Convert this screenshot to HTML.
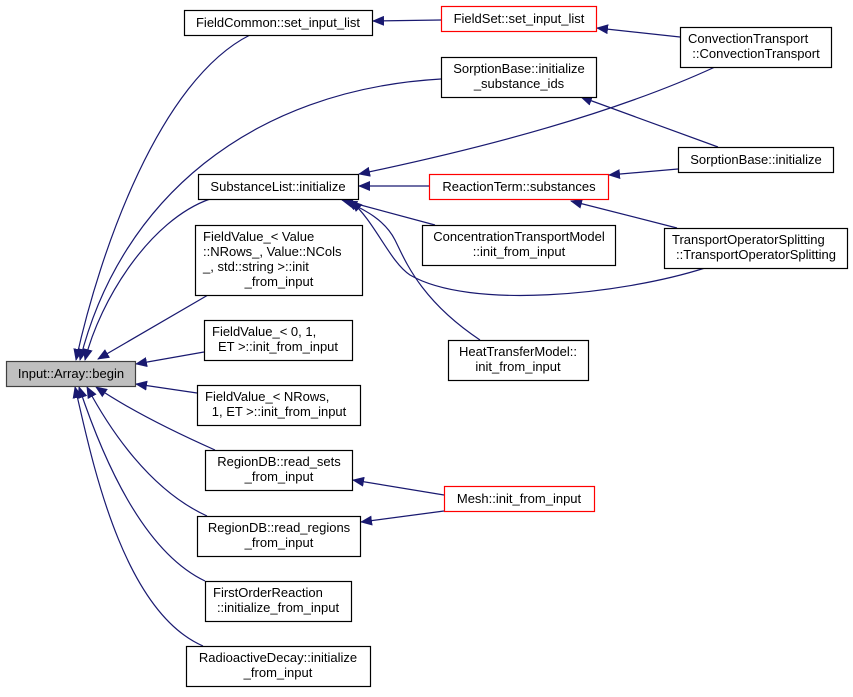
<!DOCTYPE html>
<html><head><meta charset="utf-8"><style>
body{margin:0;background:#fff}
svg text{font-family:"Liberation Sans",sans-serif;font-size:13px;fill:#000}
</style></head><body>
<svg width="853" height="692" viewBox="0 0 853 692" xmlns="http://www.w3.org/2000/svg">
<defs><marker id="a" markerWidth="12" markerHeight="10" refX="11" refY="5" orient="auto" markerUnits="userSpaceOnUse"><path d="M0,0 L12,5 L0,10 z" fill="#191970"/></marker></defs>
<g fill="none" stroke="#191970" stroke-width="1.2" marker-end="url(#a)">
<path d="M250,35 C160,80 100,250 76,360"/>
<path d="M441,79 C250,90 120,200 80,360"/>
<path d="M210,199 C150,220 100,300 85,360"/>
<path d="M208,295 L98,359"/>
<path d="M204,352 L136,364"/>
<path d="M197,393 L136,384"/>
<path d="M215,450 C170,430 130,410 96,387"/>
<path d="M207,516 C150,490 110,430 87,387"/>
<path d="M205,581 C140,550 100,450 79,387"/>
<path d="M203,646 C120,610 90,450 75,387"/>
<path d="M441,20 L373,21"/>
<path d="M680,37 L597,28"/>
<path d="M715,67 C600,120 450,155 359,174"/>
<path d="M718,147 L581,97"/>
<path d="M678,169 L609,175"/>
<path d="M429,186 L359,186"/>
<path d="M677,228 L571,201"/>
<path d="M435,225 L342,200"/>
<path d="M705,268 C620,295 470,310 410,275 C390,262 375,222 351,201"/>
<path d="M480,340 C420,300 405,260 395,240 C385,220 365,210 346,201"/>
<path d="M444,495 L353,480"/>
<path d="M444,511 L361,522"/>
</g>
<g stroke-width="1.2" fill="#fff" stroke="#000">
<rect x="6.5" y="361.5" width="129" height="25" fill="#bfbfbf" stroke="#404040"/>
<rect x="184.5" y="10.5" width="188" height="25"/>
<rect x="198.5" y="174.5" width="160" height="25"/>
<rect x="195.5" y="225.5" width="167" height="70"/>
<rect x="204.5" y="320.5" width="148" height="40"/>
<rect x="197.5" y="385.5" width="163" height="40"/>
<rect x="205.5" y="450.5" width="147" height="40"/>
<rect x="197.5" y="516.5" width="163" height="40"/>
<rect x="205.5" y="581.5" width="146" height="40"/>
<rect x="186.5" y="646.5" width="184" height="40"/>
<rect x="441.5" y="6.5" width="155" height="25" stroke="#ff0000"/>
<rect x="441.5" y="57.5" width="155" height="40"/>
<rect x="680.5" y="27.5" width="151" height="40"/>
<rect x="678.5" y="147.5" width="155" height="25"/>
<rect x="429.5" y="174.5" width="179" height="25" stroke="#ff0000"/>
<rect x="422.5" y="225.5" width="193" height="40"/>
<rect x="664.5" y="228.5" width="183" height="40"/>
<rect x="448.5" y="340.5" width="140" height="40"/>
<rect x="444.5" y="486.5" width="150" height="25" stroke="#ff0000"/>
</g>
<g text-anchor="middle">
<text x="71" y="378">Input::Array::begin</text>
<text x="278" y="27">FieldCommon::set_input_list</text>
<text x="278" y="191">SubstanceList::initialize</text>
<text x="203" y="241" text-anchor="start">FieldValue_&lt; Value</text>
<text x="203" y="256" text-anchor="start">::NRows_, Value::NCols</text>
<text x="203" y="271" text-anchor="start">_, std::string &gt;::init</text>
<text x="279" y="286">_from_input</text>
<text x="212" y="336" text-anchor="start">FieldValue_&lt; 0, 1,</text>
<text x="278" y="351">ET &gt;::init_from_input</text>
<text x="205" y="401" text-anchor="start">FieldValue_&lt; NRows,</text>
<text x="279" y="416">1, ET &gt;::init_from_input</text>
<text x="279" y="466">RegionDB::read_sets</text>
<text x="279" y="481">_from_input</text>
<text x="279" y="532">RegionDB::read_regions</text>
<text x="279" y="547">_from_input</text>
<text x="213" y="597" text-anchor="start">FirstOrderReaction</text>
<text x="278" y="612">::initialize_from_input</text>
<text x="278" y="662">RadioactiveDecay::initialize</text>
<text x="278" y="677">_from_input</text>
<text x="519" y="23">FieldSet::set_input_list</text>
<text x="519" y="73">SorptionBase::initialize</text>
<text x="519" y="88">_substance_ids</text>
<text x="688" y="43" text-anchor="start">ConvectionTransport</text>
<text x="756" y="58">::ConvectionTransport</text>
<text x="756" y="164">SorptionBase::initialize</text>
<text x="519" y="191">ReactionTerm::substances</text>
<text x="519" y="241">ConcentrationTransportModel</text>
<text x="519" y="256">::init_from_input</text>
<text x="672" y="244" text-anchor="start">TransportOperatorSplitting</text>
<text x="756" y="259">::TransportOperatorSplitting</text>
<text x="518" y="356">HeatTransferModel::</text>
<text x="518" y="371">init_from_input</text>
<text x="519" y="503">Mesh::init_from_input</text>
</g>
</svg>
</body></html>
